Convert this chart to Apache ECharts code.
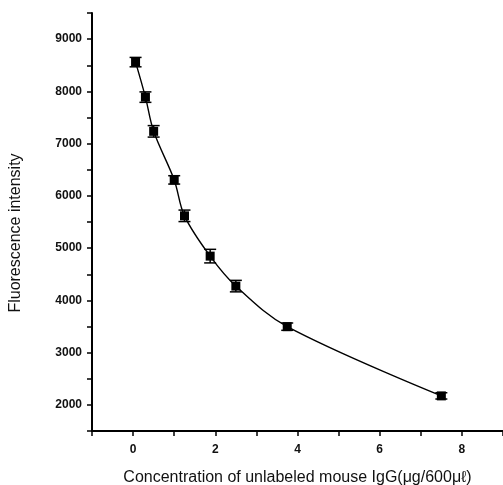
<!DOCTYPE html>
<html>
<head>
<meta charset="utf-8">
<script src="https://cdn.jsdelivr.net/npm/echarts@6/dist/echarts.min.js"></script>
<style>
  html, body { margin: 0; padding: 0; background: #fff; }
  #chart { width: 503px; height: 485px; }
</style>
</head>
<body>
<div id="chart"></div>
<script>
// concentration of unlabeled mouse IgG (ug / 600 ul)
var conc = [0.06, 0.3, 0.5, 1, 1.25, 1.875, 2.5, 3.75, 7.5]
var intensity = [8560, 7890, 7235, 6306, 5618, 4847, 4273, 3497, 2172]
var errs = [90, 100, 110, 80, 110, 130, 110, 70, 60]

var points = conc.map(function (x, i) { return [x, intensity[i]] })
var bars = conc.map(function (x, i) { return [x, intensity[i] - errs[i], intensity[i] + errs[i]] })

var chart = echarts.init(document.getElementById('chart'))

var axisText = { color: '#111', fontFamily: 'Liberation Sans, Arial', fontSize: 12, fontWeight: 'bold' }

var option = {
  animation: false,
  backgroundColor: '#fff',
  grid: { left: 92, top: 13, right: 0, bottom: 54, containLabel: false, outerBoundsMode: 'none' },
  xAxis: {
    type: 'value',
    min: -1,
    max: 9,
    interval: 1,
    name: 'Concentration of unlabeled mouse IgG(μg/600μℓ)',
    nameLocation: 'middle',
    nameGap: 39,
    nameTextStyle: { color: '#111', fontFamily: 'Liberation Sans, Arial', fontSize: 16 },
    axisLine: { onZero: false, lineStyle: { color: '#000', width: 2 } },
    axisTick: { show: true, length: 5, lineStyle: { color: '#000', width: 1.5 } },
    axisLabel: Object.assign({ margin: 13,
      formatter: function (v) { return (v >= 0 && v % 2 === 0 && v < 9) ? String(v) : '' } }, axisText),
    splitLine: { show: false }
  },
  yAxis: {
    type: 'value',
    min: 1500,
    max: 9500,
    interval: 500,
    name: 'Fluorescence intensity',
    nameLocation: 'middle',
    nameGap: 68,
    nameTextStyle: { color: '#111', fontFamily: 'Liberation Sans, Arial', fontSize: 16, padding: [0, 22, 0, 0] },
    axisLine: { show: true, onZero: false, lineStyle: { color: '#000', width: 2 } },
    axisTick: { show: true, length: 5, lineStyle: { color: '#000', width: 1.5 } },
    axisLabel: Object.assign({ margin: 10,
      formatter: function (v) { return v % 1000 === 0 ? String(v) : '' } }, axisText),
    splitLine: { show: false }
  },
  series: [
    {
      type: 'line',
      data: points,
      smooth: 0.35,
      symbol: 'rect',
      symbolSize: 9,
      itemStyle: { color: '#000' },
      lineStyle: { color: '#000', width: 1.4 }
    },
    {
      type: 'custom',
      data: bars,
      z: 3,
      renderItem: function (params, api) {
        var lo = api.coord([api.value(0), api.value(1)])
        var hi = api.coord([api.value(0), api.value(2)])
        var w = 6
        var st = { stroke: '#000', lineWidth: 1.5 }
        return {
          type: 'group',
          children: [
            { type: 'line', shape: { x1: lo[0], y1: lo[1], x2: hi[0], y2: hi[1] }, style: st },
            { type: 'line', shape: { x1: lo[0] - w, y1: lo[1], x2: lo[0] + w, y2: lo[1] }, style: st },
            { type: 'line', shape: { x1: hi[0] - w, y1: hi[1], x2: hi[0] + w, y2: hi[1] }, style: st }
          ]
        }
      }
    }
  ]
}

chart.setOption(option)
</script>
</body>
</html>
